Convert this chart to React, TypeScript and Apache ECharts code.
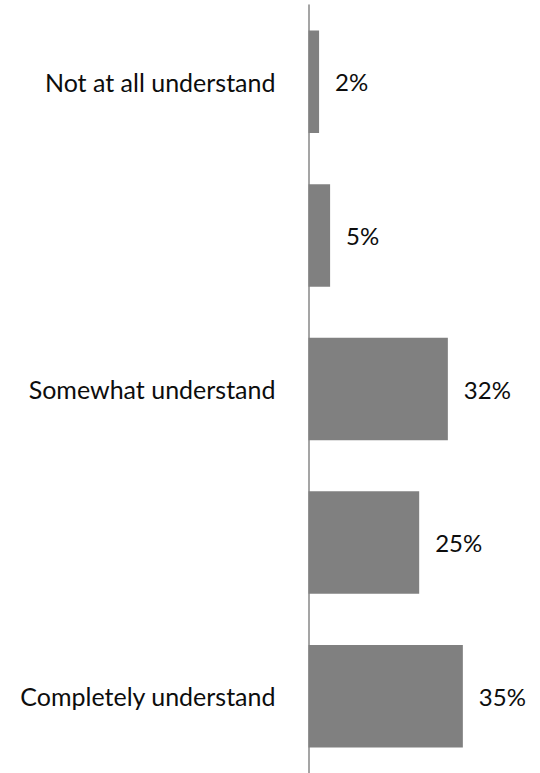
import React, { useEffect, useRef } from "react";
import * as echarts from "echarts";

const categories: string[] = [
  "Not at all understand",
  "",
  "Somewhat understand",
  "",
  "Completely understand",
];
// Bar lengths (labels show the rounded values)
const values: number[] = [2.4, 4.9, 31.6, 25.1, 35.0];

export default function App() {
  const ref = useRef<HTMLDivElement>(null);
  useEffect(() => {
    if (!ref.current) return;
    const chart = echarts.init(ref.current, null, { renderer: "svg" });
    chart.setOption({
      animation: false,
      backgroundColor: "#ffffff",
      textStyle: { fontFamily: "Lato" },
      grid: { left: 308.5, top: 5, width: 220.5, height: 768 },
      xAxis: {
        type: "value",
        min: 0,
        max: 50,
        show: false,
      },
      yAxis: {
        type: "category",
        data: categories,
        inverse: true,
        axisLine: { show: true, lineStyle: { color: "#878787", width: 1.5 } },
        axisTick: { show: false },
        splitLine: { show: false },
        axisLabel: {
          margin: 33,
          color: "#0d0d0d",
          fontSize: 25,
          fontFamily: "Lato",
        },
      },
      series: [
        {
          type: "bar",
          data: values,
          barCategoryGap: "33.3%",
          itemStyle: { color: "#808080" },
          label: {
            show: true,
            position: "right",
            distance: 16,
            formatter: (p: any) => Math.round(p.value) + "%",
            color: "#0d0d0d",
            fontSize: 24,
            fontFamily: "Lato",
          },
        },
      ],
    });
    return () => chart.dispose();
  }, []);
  return (
    <div
      ref={ref}
      style={{ position: "fixed", left: 0, top: 0, width: 540, height: 773 }}
    />
  );
}
